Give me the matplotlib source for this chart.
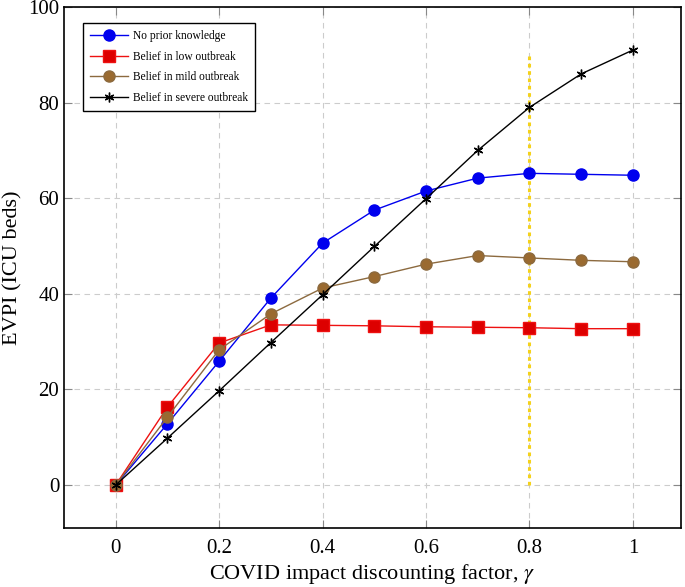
import matplotlib
matplotlib.use("Agg")
import matplotlib.pyplot as plt

plt.rcParams['font.family'] = ['Liberation Serif', 'DejaVu Serif']
plt.rcParams['mathtext.fontset'] = 'stix'

gamma = [0, 0.1, 0.2, 0.3, 0.4, 0.5, 0.6, 0.7, 0.8, 0.9, 1.0]
no_prior = [0, 12.8, 25.9, 39.1, 50.6, 57.5, 61.5, 64.2, 65.2, 65.0, 64.8]
low = [0, 16.3, 29.7, 33.5, 33.4, 33.3, 33.1, 33.0, 32.9, 32.7, 32.7]
mild = [0, 14.2, 28.3, 35.8, 41.2, 43.6, 46.2, 48.0, 47.5, 47.0, 46.7]
severe = [0, 9.8, 19.7, 29.8, 39.8, 49.9, 59.9, 70.0, 79.0, 86.0, 91.0]
labels = ['No prior knowledge', 'Belief in low outbreak',
          'Belief in mild outbreak', 'Belief in severe outbreak']
marker_line = (0.8, 0, 90)  # gamma, y from, y to

fig = plt.figure(figsize=(6.85, 5.87), dpi=100)
ax = fig.add_axes([64 / 685, 1 - 528 / 587, 617 / 685, 521 / 587])

ax.plot(gamma, no_prior, color='#0000ee', lw=1, marker='o', ms=8,
        mec='#0000ee', mfc='#0000ee', label=labels[0], zorder=3)
ax.plot(gamma, low, color='#ee1111', lw=1, marker='s', ms=8,
        mec='#ee1111', mfc='#dd0000', label=labels[1], zorder=3)
ax.plot(gamma, mild, color='#8c6a3f', lw=1, marker='o', ms=8,
        mec='#8c6a3f', mfc='#9a6a30', label=labels[2], zorder=3)
ax.plot(gamma, severe, color='black', lw=1, marker=(6, 2, 0), ms=7,
        mew=1, label=labels[3], zorder=4)
ax.vlines(marker_line[0], marker_line[1], marker_line[2], colors='#f5d21a',
          linestyles=(0, (1.2, 1.2)), lw=2.2, zorder=2)

ax.set_xlim(-0.1, 1.093)
ax.set_ylim(-9, 100)
ax.set_xticks([0, 0.2, 0.4, 0.6, 0.8, 1])
ax.set_xticklabels(['0', '0.2', '0.4', '0.6', '0.8', '1'])
ax.set_yticks([0, 20, 40, 60, 80, 100])
ax.grid(True, ls=(0, (5, 4)), color='#cccccc', lw=0.8)
ax.tick_params(direction='in', top=True, right=True, labelsize=15,
               color='#888888', length=6)
ax.tick_params(axis='x', pad=8)
for s in ax.spines.values():
    s.set_linewidth(1.2)

ax.set_xlabel(r'COVID impact discounting factor, $\gamma$', fontsize=16,
              labelpad=3)
ax.set_ylabel('EVPI (ICU beds)', fontsize=16)

leg = ax.legend(loc='upper left', bbox_to_anchor=(0.031, 0.969), fontsize=8.3,
                fancybox=False, edgecolor='black', framealpha=1,
                handlelength=3.3, handletextpad=0.45, labelspacing=0.75,
                borderpad=0.6, borderaxespad=0)
leg.get_frame().set_linewidth(1)

fig.savefig('out.png', dpi=100)
